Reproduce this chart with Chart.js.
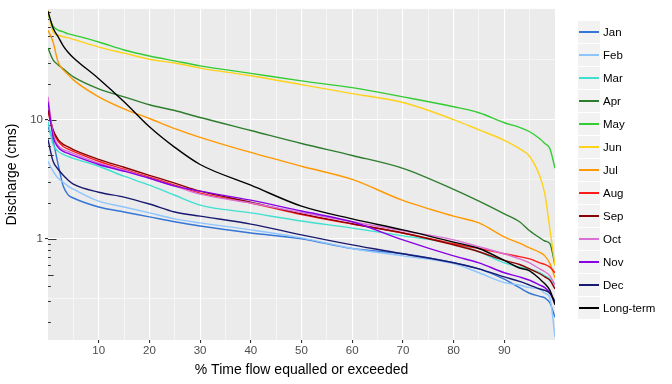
<!DOCTYPE html>
<html>
<head>
<meta charset="utf-8">
<script src="https://cdn.jsdelivr.net/npm/chart.js@4.4.1/dist/chart.umd.min.js"></script>
<style>
  body { margin: 0; background: #fff; }
  #wrap { position: relative; width: 672px; height: 384px; }
  #legend { position: absolute; left: 578px; top: 21px; font: 11.5px "Liberation Sans", Arial, sans-serif; color: #000; }
  .row { height: 23px; display: flex; align-items: flex-start; }
  .row span { line-height: 22px; }
  .key { width: 22px; height: 22px; background: #F2F2F2; position: relative; margin-right: 3px; }
  .key i { position: absolute; left: 1px; right: 1px; top: 10px; height: 2px; }
</style>
</head>
<body>
<div id="wrap">
  <canvas id="c" width="672" height="384"></canvas>
  <div id="legend"></div>
</div>
<script>
// % time flow equalled or exceeded
const pct = [0, 1, 2, 3, 4, 5, 10, 15, 20, 25, 30, 40, 50, 60, 70, 80, 85, 90, 93, 95, 97, 98, 99, 100];

// discharge (cms) per month
const jan  = [8.7, 6.6, 4.2, 2.77, 2.33, 2.2, 1.85, 1.68, 1.53, 1.39, 1.28, 1.12, 1.0, 0.83, 0.75, 0.63, 0.56, 0.46, 0.39, 0.35, 0.33, 0.32, 0.29, 0.22];
const feb  = [4.47, 3.69, 3.22, 2.98, 2.75, 2.61, 2.07, 1.85, 1.65, 1.47, 1.36, 1.19, 1.02, 0.83, 0.72, 0.62, 0.52, 0.43, 0.41, 0.39, 0.38, 0.35, 0.32, 0.15];
const mar  = [9.6, 6.2, 5.41, 5.1, 4.9, 4.73, 4.06, 3.35, 2.82, 2.32, 1.92, 1.65, 1.41, 1.23, 1.06, 0.91, 0.78, 0.63, 0.58, 0.56, 0.52, 0.49, 0.46, 0.41];
const apr  = [39.8, 31.6, 28.7, 26.6, 24.5, 22.8, 18.1, 15.5, 13.3, 11.9, 10.4, 8.1, 6.3, 5.0, 3.9, 2.6, 2.07, 1.62, 1.39, 1.17, 1.02, 0.96, 0.91, 0.6];
const may  = [76, 60.7, 56.2, 54.3, 52.2, 51, 44.7, 38.3, 34.1, 31, 28.2, 24.4, 21.1, 18.5, 15.5, 12.8, 11.4, 9.4, 8.6, 7.9, 6.9, 6.3, 5.7, 3.9];
const jun  = [82, 54, 51, 49.4, 48.3, 47, 40.5, 36, 32, 29.8, 27, 23.3, 19.6, 16.5, 13.9, 10, 8.2, 6.7, 5.7, 4.9, 3.35, 2.37, 1.2, 0.6];
const jul  = [56, 44.7, 30.3, 26.1, 23.7, 21.5, 15.5, 12.3, 10.2, 8.4, 7.1, 5.3, 4.06, 3.15, 2.1, 1.55, 1.36, 1.04, 0.92, 0.84, 0.77, 0.72, 0.62, 0.47];
const aug  = [11.7, 7.94, 6.56, 5.95, 5.65, 5.41, 4.47, 3.83, 3.29, 2.82, 2.42, 2.0, 1.6, 1.33, 1.12, 0.91, 0.83, 0.75, 0.71, 0.68, 0.63, 0.61, 0.58, 0.52];
const sep  = [12.1, 8.2, 6.8, 6.2, 5.9, 5.6, 4.64, 3.98, 3.41, 2.93, 2.51, 2.03, 1.62, 1.34, 1.12, 0.89, 0.78, 0.66, 0.61, 0.56, 0.51, 0.48, 0.45, 0.38];
const oct  = [15.5, 7.6, 6.06, 5.6, 5.4, 5.2, 4.3, 3.76, 3.22, 2.77, 2.37, 2.0, 1.66, 1.39, 1.17, 0.98, 0.86, 0.75, 0.68, 0.63, 0.56, 0.53, 0.49, 0.41];
const nov  = [14.1, 7.2, 5.85, 5.41, 5.2, 5.0, 4.2, 3.69, 3.22, 2.77, 2.51, 2.11, 1.71, 1.39, 0.98, 0.72, 0.63, 0.52, 0.48, 0.45, 0.41, 0.39, 0.35, 0.29];
const dec  = [6.8, 4.47, 3.83, 3.41, 3.1, 2.87, 2.46, 2.24, 1.96, 1.68, 1.55, 1.33, 1.08, 0.89, 0.75, 0.63, 0.56, 0.48, 0.44, 0.41, 0.38, 0.37, 0.35, 0.30];
const longTerm = [81, 58.5, 49.4, 41.5, 36.5, 33, 22, 14.1, 8.7, 5.85, 4.2, 2.82, 1.88, 1.47, 1.19, 0.94, 0.83, 0.66, 0.57, 0.54, 0.46, 0.42, 0.37, 0.28];

const labels = ['Jan', 'Feb', 'Mar', 'Apr', 'May', 'Jun', 'Jul', 'Aug', 'Sep', 'Oct', 'Nov', 'Dec', 'Long-term'];
const colors = ['#3575D5', '#8EC5FF', '#40E0D0', '#2E7D2E', '#33CC33', '#FFD21A', '#FF9900', '#FF1A1A', '#8B0000', '#DA70D6', '#8A00E6', '#191970', '#000000'];
const series = [jan, feb, mar, apr, may, jun, jul, aug, sep, oct, nov, dec, longTerm];

// axis breaks
const xBreaks = [10, 20, 30, 40, 50, 60, 70, 80, 90];
const xMinor = [5, 15, 25, 35, 45, 55, 65, 75, 85, 95];
const yBreaks = [1, 10];
const yMinor = [0.3162, 3.162, 31.62];

const font = "'Liberation Sans', Arial, sans-serif";

// grey panel background
const panelBg = {
  id: 'panelBg',
  beforeDraw(chart) {
    const a = chart.chartArea, ctx = chart.ctx;
    ctx.save();
    ctx.fillStyle = '#EBEBEB';
    ctx.fillRect(a.left, a.top, a.right - a.left, a.bottom - a.top);
    ctx.restore();
  }
};

// annotation_logticks on the left side
const logTicks = {
  id: 'logTicks',
  beforeDatasetsDraw(chart) {
    const y = chart.scales.y, a = chart.chartArea, ctx = chart.ctx;
    ctx.save();
    ctx.strokeStyle = '#222';
    ctx.lineWidth = 0.9;
    [0.1, 1, 10].forEach(function (d) {
      for (let k = 1; k <= 9; k++) {
        const v = k * d;
        if (v < y.min || v > y.max) continue;
        const len = k === 1 ? 8.5 : (k === 5 ? 5.7 : 2.9);
        const py = Math.round(y.getPixelForValue(v)) + 0.5;
        ctx.beginPath();
        ctx.moveTo(a.left, py);
        ctx.lineTo(a.left + len, py);
        ctx.stroke();
      }
    });
    ctx.restore();
  }
};

const datasets = series.map(function (s, i) {
  return {
    label: labels[i],
    data: pct.map(function (x, j) { return { x: x, y: s[j] }; }),
    borderColor: colors[i],
    backgroundColor: colors[i],
    borderWidth: 1.4,
    pointRadius: 0,
    cubicInterpolationMode: 'monotone',
    order: series.length - i
  };
});

new Chart(document.getElementById('c'), {
  type: 'line',
  data: { datasets: datasets },
  plugins: [panelBg, logTicks],
  options: {
    responsive: false,
    animation: false,
    layout: { padding: { top: 7, right: 117, left: 0, bottom: 0 } },
    plugins: { legend: { display: false }, tooltip: { enabled: false } },
    scales: {
      x: {
        type: 'linear',
        min: 0,
        max: 100,
        afterBuildTicks: function (scale) {
          scale.ticks = xMinor.concat(xBreaks).sort(function (a, b) { return a - b; }).map(function (v) { return { value: v }; });
        },
        afterFit: function (scale) { scale.height = 44; },
        border: { display: false },
        grid: {
          color: '#FFFFFF',
          lineWidth: function (c) { return xBreaks.indexOf(c.tick.value) >= 0 ? 1.1 : 0.55; },
          tickLength: 3,
          tickColor: function (c) { return xBreaks.indexOf(c.tick.value) >= 0 ? '#333333' : 'rgba(0,0,0,0)'; }
        },
        ticks: {
          autoSkip: false,
          maxRotation: 0,
          padding: 1,
          color: '#4D4D4D',
          font: { family: font, size: 11.5 },
          callback: function (v) { return xBreaks.indexOf(v) >= 0 ? String(v) : ''; }
        },
        title: {
          display: true,
          text: '% Time flow equalled or exceeded',
          color: '#000',
          font: { family: font, size: 14 },
          padding: { top: 0, bottom: 5 }
        }
      },
      y: {
        type: 'logarithmic',
        min: 0.142,
        max: 84.6,
        afterBuildTicks: function (scale) {
          scale.ticks = yMinor.concat(yBreaks).sort(function (a, b) { return a - b; }).map(function (v) { return { value: v }; });
        },
        afterFit: function (scale) { scale.width = 48; },
        border: { display: false },
        grid: {
          color: '#FFFFFF',
          lineWidth: function (c) { return yBreaks.indexOf(c.tick.value) >= 0 ? 1.1 : 0.55; },
          tickLength: 3,
          tickColor: function (c) { return yBreaks.indexOf(c.tick.value) >= 0 ? '#333333' : 'rgba(0,0,0,0)'; }
        },
        ticks: {
          padding: 2,
          color: '#4D4D4D',
          font: { family: font, size: 11.5 },
          callback: function (v) { return yBreaks.indexOf(v) >= 0 ? String(v) : ''; }
        },
        title: {
          display: true,
          text: 'Discharge (cms)',
          color: '#000',
          font: { family: font, size: 14 },
          padding: { top: 4, bottom: 0 }
        }
      }
    }
  }
});

// ggplot-style legend with grey key boxes
const legend = document.getElementById('legend');
labels.forEach(function (name, i) {
  const row = document.createElement('div');
  row.className = 'row';
  row.innerHTML = '<div class="key"><i style="background:' + colors[i] + '"></i></div><span>' + name + '</span>';
  legend.appendChild(row);
});
</script>
</body>
</html>
